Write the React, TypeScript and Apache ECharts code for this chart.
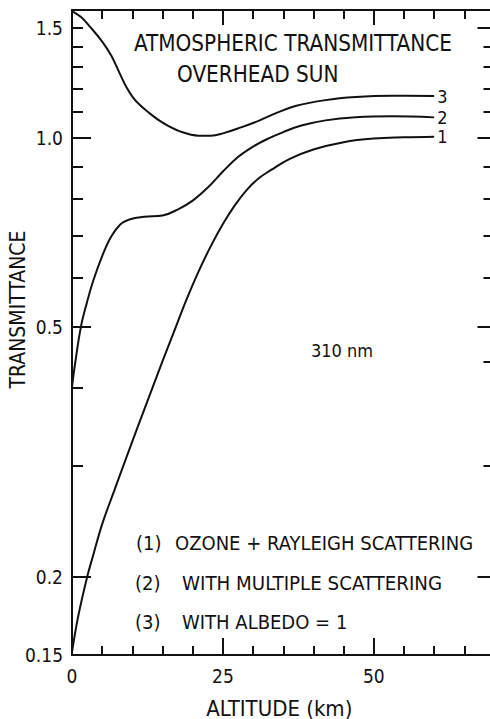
import React, { useEffect, useRef } from "react";
import * as echarts from "echarts";

// ---- data ----
const altitude1 = [0, 1, 2.5, 3.5, 5, 7, 9, 11, 13, 15, 17, 19, 21, 23, 25, 27, 29, 31, 33, 36, 40, 45, 50, 55, 60];
const transmittance1 = [0.1516, 0.1724, 0.1996, 0.2161, 0.2425, 0.2742, 0.3095, 0.3487, 0.3923, 0.4411, 0.4943, 0.5538, 0.6138, 0.6726, 0.7295, 0.7819, 0.8277, 0.8635, 0.8897, 0.9259, 0.959, 0.9851, 0.9982, 1.0026, 1.0048];

const altitude2 = [0, 0.5, 1.5, 2.5, 3.5, 5, 6.5, 8, 9.5, 12, 15, 17.5, 20, 22.5, 25, 27.5, 30, 32.5, 35, 38, 42, 47, 53, 60];
const transmittance2 = [0.401, 0.4362, 0.5016, 0.5479, 0.5917, 0.6484, 0.6966, 0.7281, 0.7417, 0.7493, 0.7526, 0.7692, 0.795, 0.8338, 0.8843, 0.9327, 0.9693, 0.9982, 1.0223, 1.0469, 1.0671, 1.0793, 1.0833, 1.0789];

const altitude3 = [0, 1.5, 3, 5, 6.5, 8, 9, 10, 11, 12.5, 15, 18, 21, 23, 25, 28, 31, 34, 37, 42, 47, 53, 60];
const transmittance3 = [1.594, 1.559, 1.504, 1.425, 1.354, 1.262, 1.206, 1.1646, 1.135, 1.1021, 1.0585, 1.0241, 1.0089, 1.0089, 1.0174, 1.04, 1.0663, 1.0977, 1.1246, 1.1494, 1.1624, 1.1679, 1.1667];

const curveLabels = ["1", "2", "3"];

const yLabelValues = [0.15, 0.2, 0.5, 1.0, 1.5];
const yLabelTexts = ["0.15", "0.2", "0.5", "1.0", "1.5"];
const yMinorTicksLeft = [0.3, 0.4, 0.6, 0.7, 0.8, 0.9, 1.1, 1.2, 1.3, 1.4, 1.5];
const yMajorTicksLeft = [0.2, 0.5, 1.0];
const yMinorTicksRight = [0.3, 0.44, 0.6, 0.7, 0.8, 0.9, 1.1, 1.2, 1.3, 1.4];
const yMajorTicksRight = [0.2, 0.5, 1.0, 1.5];
const xLabelValues = [0, 25, 50];

const Y_MIN = 0.15;
const Y_MAX = 1.6;
const X_MIN = 0;
const X_MAX = 70;

const titleLines = ["ATMOSPHERIC TRANSMITTANCE", "OVERHEAD SUN"];
const wavelengthText = "310 nm";
const legendKeys = ["(1)", "(2)", "(3)"];
const legendTexts = ["OZONE + RAYLEIGH SCATTERING", "WITH MULTIPLE SCATTERING", "WITH ALBEDO = 1"];

const FONT = "'DejaVu Sans Condensed', 'Liberation Sans Narrow', 'DejaVu Sans', sans-serif";
const INK = "#111111";

export default function App() {
  const ref = useRef<HTMLDivElement | null>(null);

  useEffect(() => {
    if (!ref.current) return;
    const chart = echarts.init(ref.current, undefined, { renderer: "svg" });
    const lg = (v: number) => Math.log10(v);

    const gridBox = { left: 72, right: -4.5, top: 10, bottom: 64, containLabel: false, outerBoundsMode: "none" };

    const mkSeries = (name: string, xs: number[], ys: number[]) => ({
      type: "line",
      name,
      xAxisIndex: 0,
      yAxisIndex: 0,
      data: xs.map((x, i) => [x, lg(ys[i])]),
      showSymbol: false,
      smooth: 0.4,
      lineStyle: { color: INK, width: 2 },
      itemStyle: { color: INK },
      endLabel: {
        show: true,
        formatter: name,
        distance: 3,
        color: INK,
        fontSize: 18,
        fontFamily: FONT,
      },
      z: 5,
    });

    const labelFmt = (v: number) => {
      for (let i = 0; i < yLabelValues.length; i++) {
        if (Math.abs(lg(yLabelValues[i]) - v) < 1e-6) return yLabelTexts[i];
      }
      return "";
    };

    const axisLineStyle = { show: true, onZero: false, lineStyle: { color: INK, width: 2 } };
    const noLine = { show: false, onZero: false };

    const option: any = {
      animation: false,
      backgroundColor: "#ffffff",
      textStyle: { fontFamily: FONT, color: INK },
      grid: [gridBox, { ...gridBox }],
      xAxis: [
        {
          gridIndex: 0, type: "value", position: "bottom", min: X_MIN, max: X_MAX, interval: 5,
          axisLine: axisLineStyle,
          axisTick: { show: true, inside: true, length: 9, lineStyle: { color: INK, width: 2 } },
          axisLabel: { show: true, customValues: xLabelValues, margin: 11, fontSize: 19, color: INK, fontFamily: FONT },
          splitLine: { show: false },
          name: "ALTITUDE (km)", nameLocation: "middle", nameGap: 42,
          nameTextStyle: { fontSize: 22, color: INK, fontFamily: FONT, padding: [0, 8, 0, 0] },
        },
        {
          gridIndex: 0, type: "value", position: "top", min: X_MIN, max: X_MAX, interval: 5,
          axisLine: axisLineStyle,
          axisTick: { show: true, inside: true, length: 9, lineStyle: { color: INK, width: 2 } },
          axisLabel: { show: false },
          splitLine: { show: false },
        },
        {
          gridIndex: 1, type: "value", position: "bottom", min: X_MIN, max: X_MAX, interval: 25,
          axisLine: noLine,
          axisTick: { show: true, inside: true, length: 17, lineStyle: { color: INK, width: 2 } },
          axisLabel: { show: false },
          splitLine: { show: false },
        },
        {
          gridIndex: 1, type: "value", position: "top", min: X_MIN, max: X_MAX, interval: 25,
          axisLine: noLine,
          axisTick: { show: true, inside: true, length: 15, lineStyle: { color: INK, width: 2 } },
          axisLabel: { show: false },
          splitLine: { show: false },
        },
      ],
      yAxis: [
        {
          gridIndex: 0, type: "value", position: "left", min: lg(Y_MIN), max: lg(Y_MAX),
          axisLine: axisLineStyle,
          axisTick: { show: true, inside: true, length: 11, customValues: yMinorTicksLeft.map(lg), lineStyle: { color: INK, width: 2 } },
          axisLabel: { show: true, customValues: yLabelValues.map(lg), formatter: labelFmt, margin: 9, fontSize: 19, color: INK, fontFamily: FONT },
          splitLine: { show: false },
          name: "TRANSMITTANCE", nameLocation: "middle", nameGap: 54, nameRotate: 90, nameMoveOverlap: false,
          nameTextStyle: { fontSize: 21, color: INK, fontFamily: FONT, verticalAlign: "middle", padding: [0, 0, 0, 46] },
        },
        {
          gridIndex: 0, type: "value", position: "right", min: lg(Y_MIN), max: lg(Y_MAX),
          axisLine: axisLineStyle,
          axisTick: { show: true, inside: true, length: 11, customValues: yMinorTicksRight.map(lg), lineStyle: { color: INK, width: 2 } },
          axisLabel: { show: false },
          splitLine: { show: false },
        },
        {
          gridIndex: 1, type: "value", position: "left", min: lg(Y_MIN), max: lg(Y_MAX),
          axisLine: noLine,
          axisTick: { show: true, inside: true, length: 19, customValues: yMajorTicksLeft.map(lg), lineStyle: { color: INK, width: 2 } },
          axisLabel: { show: false },
          splitLine: { show: false },
        },
        {
          gridIndex: 1, type: "value", position: "right", min: lg(Y_MIN), max: lg(Y_MAX),
          axisLine: noLine,
          axisTick: { show: true, inside: true, length: 17, customValues: yMajorTicksRight.map(lg), lineStyle: { color: INK, width: 2 } },
          axisLabel: { show: false },
          splitLine: { show: false },
        },
      ],
      series: [
        mkSeries(curveLabels[0], altitude1, transmittance1),
        mkSeries(curveLabels[1], altitude2, transmittance2),
        mkSeries(curveLabels[2], altitude3, transmittance3),
      ],
      graphic: [
        { type: "text", x: 134, y: 43, style: { text: titleLines[0], fontSize: 22.3, fontFamily: FONT, fill: INK, textAlign: "left", textVerticalAlign: "middle" } },
        { type: "text", x: 177, y: 73.5, style: { text: titleLines[1], fontSize: 22.3, fontFamily: FONT, fill: INK, textAlign: "left", textVerticalAlign: "middle" } },
        { type: "text", x: 311, y: 350, style: { text: wavelengthText, fontSize: 18, fontFamily: FONT, fill: INK, textAlign: "left", textVerticalAlign: "middle" } },
        { type: "text", x: 136, y: 543, style: { text: legendKeys[0], fontSize: 20, fontFamily: FONT, fill: INK, textAlign: "left", textVerticalAlign: "middle" } },
        { type: "text", x: 175, y: 543, style: { text: legendTexts[0], fontSize: 20, fontFamily: FONT, fill: INK, textAlign: "left", textVerticalAlign: "middle" } },
        { type: "text", x: 135, y: 583, style: { text: legendKeys[1], fontSize: 20, fontFamily: FONT, fill: INK, textAlign: "left", textVerticalAlign: "middle" } },
        { type: "text", x: 182, y: 583, style: { text: legendTexts[1], fontSize: 20.3, fontFamily: FONT, fill: INK, textAlign: "left", textVerticalAlign: "middle" } },
        { type: "text", x: 135, y: 622, style: { text: legendKeys[2], fontSize: 20, fontFamily: FONT, fill: INK, textAlign: "left", textVerticalAlign: "middle" } },
        { type: "text", x: 182, y: 622, style: { text: legendTexts[2], fontSize: 20, fontFamily: FONT, fill: INK, textAlign: "left", textVerticalAlign: "middle" } },
      ],
    };

    chart.setOption(option);
    return () => chart.dispose();
  }, []);

  return (
    <div
      ref={ref}
      style={{ position: "absolute", left: 0, top: 0, width: 490, height: 719, background: "#fff" }}
    />
  );
}
